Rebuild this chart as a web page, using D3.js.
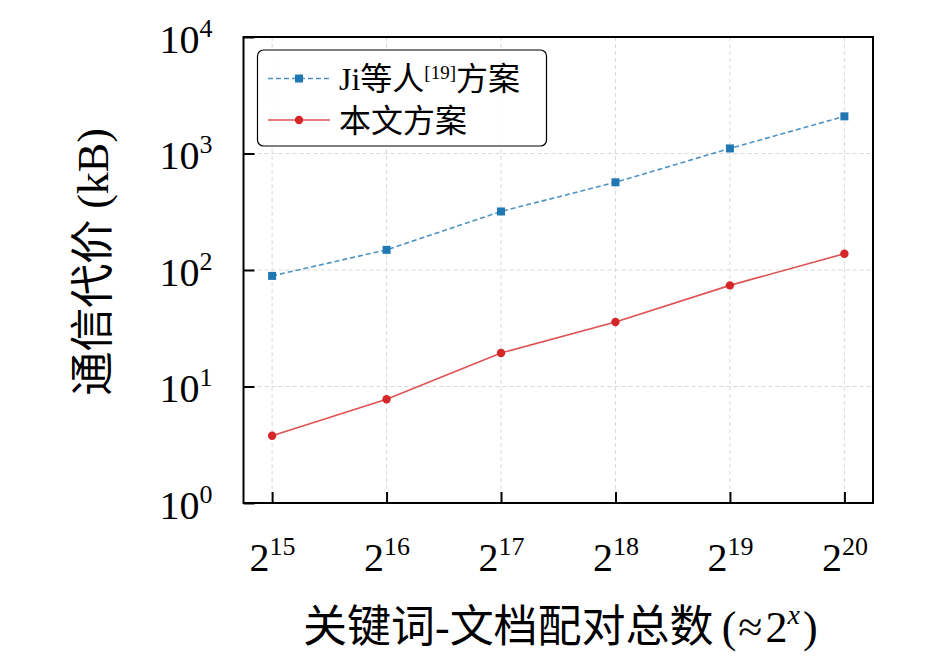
<!DOCTYPE html>
<html>
<head>
<meta charset="utf-8">
<script src="https://cdn.jsdelivr.net/npm/d3@7/dist/d3.min.js"></script>
<style>
  html, body { margin: 0; padding: 0; background: #fff; }
  svg { display: block; }
  text { font-family: "Liberation Serif", serif; fill: #000; }
  .cjk { font-family: "Noto Sans CJK SC", sans-serif; }
  .lat { font-family: "Liberation Serif", serif; }
</style>
</head>
<body>
<svg id="chart" width="945" height="656"></svg>
<script>
// ---- data ----
const exponents = [15, 16, 17, 18, 19, 20];
const jiValues = [89, 149, 318, 566, 1105, 2084];
const oursValues = [3.78, 7.78, 19.4, 35.8, 73.8, 138];
const yTickValues = [1, 10, 100, 1000, 10000];
const yTickExps = ["0", "1", "2", "3", "4"];
const seriesNames = ["Ji等人", "本文方案"];

const m = { left: 243.5, right: 873, top: 37, bottom: 503 };

const svg = d3.select("#chart");

const x = d3.scaleLinear().domain([14.75, 20.25]).range([m.left, m.right]);
const y = d3.scaleLog().domain([1, 10000]).range([m.bottom, m.top]);

// grid
const grid = svg.append("g");
grid.selectAll("line.gx").data(exponents).enter().append("line")
  .attr("x1", d => x(d)).attr("x2", d => x(d))
  .attr("y1", m.top).attr("y2", m.bottom)
  .attr("stroke", "#d9d9d9").attr("stroke-width", 1).attr("stroke-dasharray", "4,3");
grid.selectAll("line.gy").data(yTickValues.slice(1, -1)).enter().append("line")
  .attr("x1", m.left).attr("x2", m.right)
  .attr("y1", d => y(d)).attr("y2", d => y(d))
  .attr("stroke", "#d9d9d9").attr("stroke-width", 1).attr("stroke-dasharray", "4,3");

// axes
const xAxis = d3.axisBottom(x).tickValues(exponents).tickSizeInner(-11).tickSizeOuter(0).tickPadding(0);
const gx = svg.append("g").attr("transform", `translate(0,${m.bottom})`).call(xAxis);
gx.select(".domain").remove();
gx.attr("font-family", null);
gx.selectAll(".tick line").attr("stroke", "#000").attr("stroke-width", 2);
gx.selectAll(".tick text").each(function(d) {
  const t = d3.select(this);
  t.text(null).attr("y", 68).attr("dy", null).attr("font-size", 40)
    .attr("text-anchor", "middle").attr("fill", "#000");
  t.append("tspan").text("2");
  t.append("tspan").attr("font-size", 26).attr("dy", -16).text(String(d));
});

const yAxis = d3.axisLeft(y).tickValues(yTickValues).tickSizeInner(-11).tickSizeOuter(0).tickPadding(31);
const gy = svg.append("g").attr("transform", `translate(${m.left},0)`).call(yAxis);
gy.select(".domain").remove();
gy.attr("font-family", null);
gy.selectAll(".tick line").attr("stroke", "#000").attr("stroke-width", 2);
gy.selectAll(".tick text").each(function(d, i) {
  const t = d3.select(this);
  t.text(null).attr("dy", 15).attr("font-size", 40).attr("fill", "#000");
  t.append("tspan").text("10");
  t.append("tspan").attr("font-size", 26).attr("dy", -16).text(yTickExps[i]);
});

// frame
svg.append("rect")
  .attr("x", m.left).attr("y", m.top)
  .attr("width", m.right - m.left).attr("height", m.bottom - m.top)
  .attr("fill", "none").attr("stroke", "#000").attr("stroke-width", 2);

// lines
const line = (vals) => d3.line().x((d, i) => x(exponents[i])).y(d => y(d))(vals);

svg.append("path").attr("d", line(jiValues))
  .attr("fill", "none").attr("stroke", "#1f77b4").attr("stroke-opacity", 0.8)
  .attr("stroke-width", 1.6).attr("stroke-dasharray", "5,3");
svg.selectAll("rect.ji").data(jiValues).enter().append("rect")
  .attr("x", (d, i) => x(exponents[i]) - 4).attr("y", d => y(d) - 4)
  .attr("width", 8).attr("height", 8).attr("fill", "#1f77b4");

svg.append("path").attr("d", line(oursValues))
  .attr("fill", "none").attr("stroke", "#d62728").attr("stroke-opacity", 0.8)
  .attr("stroke-width", 1.6);
svg.selectAll("circle.ours").data(oursValues).enter().append("circle")
  .attr("cx", (d, i) => x(exponents[i])).attr("cy", d => y(d))
  .attr("r", 4.2).attr("fill", "#d62728");

// legend
const lg = svg.append("g");
lg.append("rect").attr("x", 257.5).attr("y", 50).attr("width", 289).attr("height", 96)
  .attr("rx", 6).attr("fill", "#fff").attr("fill-opacity", 0.85)
  .attr("stroke", "#000").attr("stroke-width", 1.2);
lg.append("line").attr("x1", 268).attr("x2", 330).attr("y1", 78.5).attr("y2", 78.5)
  .attr("stroke", "#1f77b4").attr("stroke-opacity", 0.8).attr("stroke-width", 1.6).attr("stroke-dasharray", "5,3");
lg.append("rect").attr("x", 295).attr("y", 74.5).attr("width", 8).attr("height", 8).attr("fill", "#1f77b4");
lg.append("line").attr("x1", 268).attr("x2", 330).attr("y1", 120).attr("y2", 120)
  .attr("stroke", "#d62728").attr("stroke-opacity", 0.8).attr("stroke-width", 1.6);
lg.append("circle").attr("cx", 299).attr("cy", 120).attr("r", 4.2).attr("fill", "#d62728");

const t1 = lg.append("text").attr("x", 339).attr("y", 90).attr("font-size", 32);
t1.append("tspan").attr("class", "lat").text(seriesNames[0].slice(0, 2));
t1.append("tspan").attr("class", "cjk").text(seriesNames[0].slice(2));
t1.append("tspan").attr("class", "lat").attr("font-size", 19).attr("dy", -11).text("[19]");
t1.append("tspan").attr("class", "cjk").attr("dy", 11).text("方案");
lg.append("text").attr("x", 339).attr("y", 132).attr("font-size", 32)
  .append("tspan").attr("class", "cjk").text(seriesNames[1]);

// axis titles
const yl = svg.append("text").attr("transform", `translate(108,262) rotate(-90)`)
  .attr("text-anchor", "middle").attr("font-size", 44);
yl.append("tspan").attr("class", "cjk").text("通信代价");
yl.append("tspan").attr("class", "lat").text(" (kB)");

const xl = svg.append("text").attr("x", (m.left + m.right) / 2 + 2).attr("y", 642)
  .attr("text-anchor", "middle").attr("font-size", 44);
xl.append("tspan").attr("class", "cjk").text("关键词");
xl.append("tspan").attr("class", "lat").text("-");
xl.append("tspan").attr("class", "cjk").text("文档配对总数");
xl.append("tspan").attr("class", "lat").attr("dx", 8).text("(");
xl.append("tspan").attr("class", "lat").attr("dx", 2).text("≈");
xl.append("tspan").attr("class", "lat").attr("dx", 3).text("2");
xl.append("tspan").attr("class", "lat").attr("font-size", 28).attr("dy", -18).attr("font-style", "italic").text("x");
xl.append("tspan").attr("class", "lat").attr("dx", 3).attr("dy", 18).text(")");
</script>
</body>
</html>
